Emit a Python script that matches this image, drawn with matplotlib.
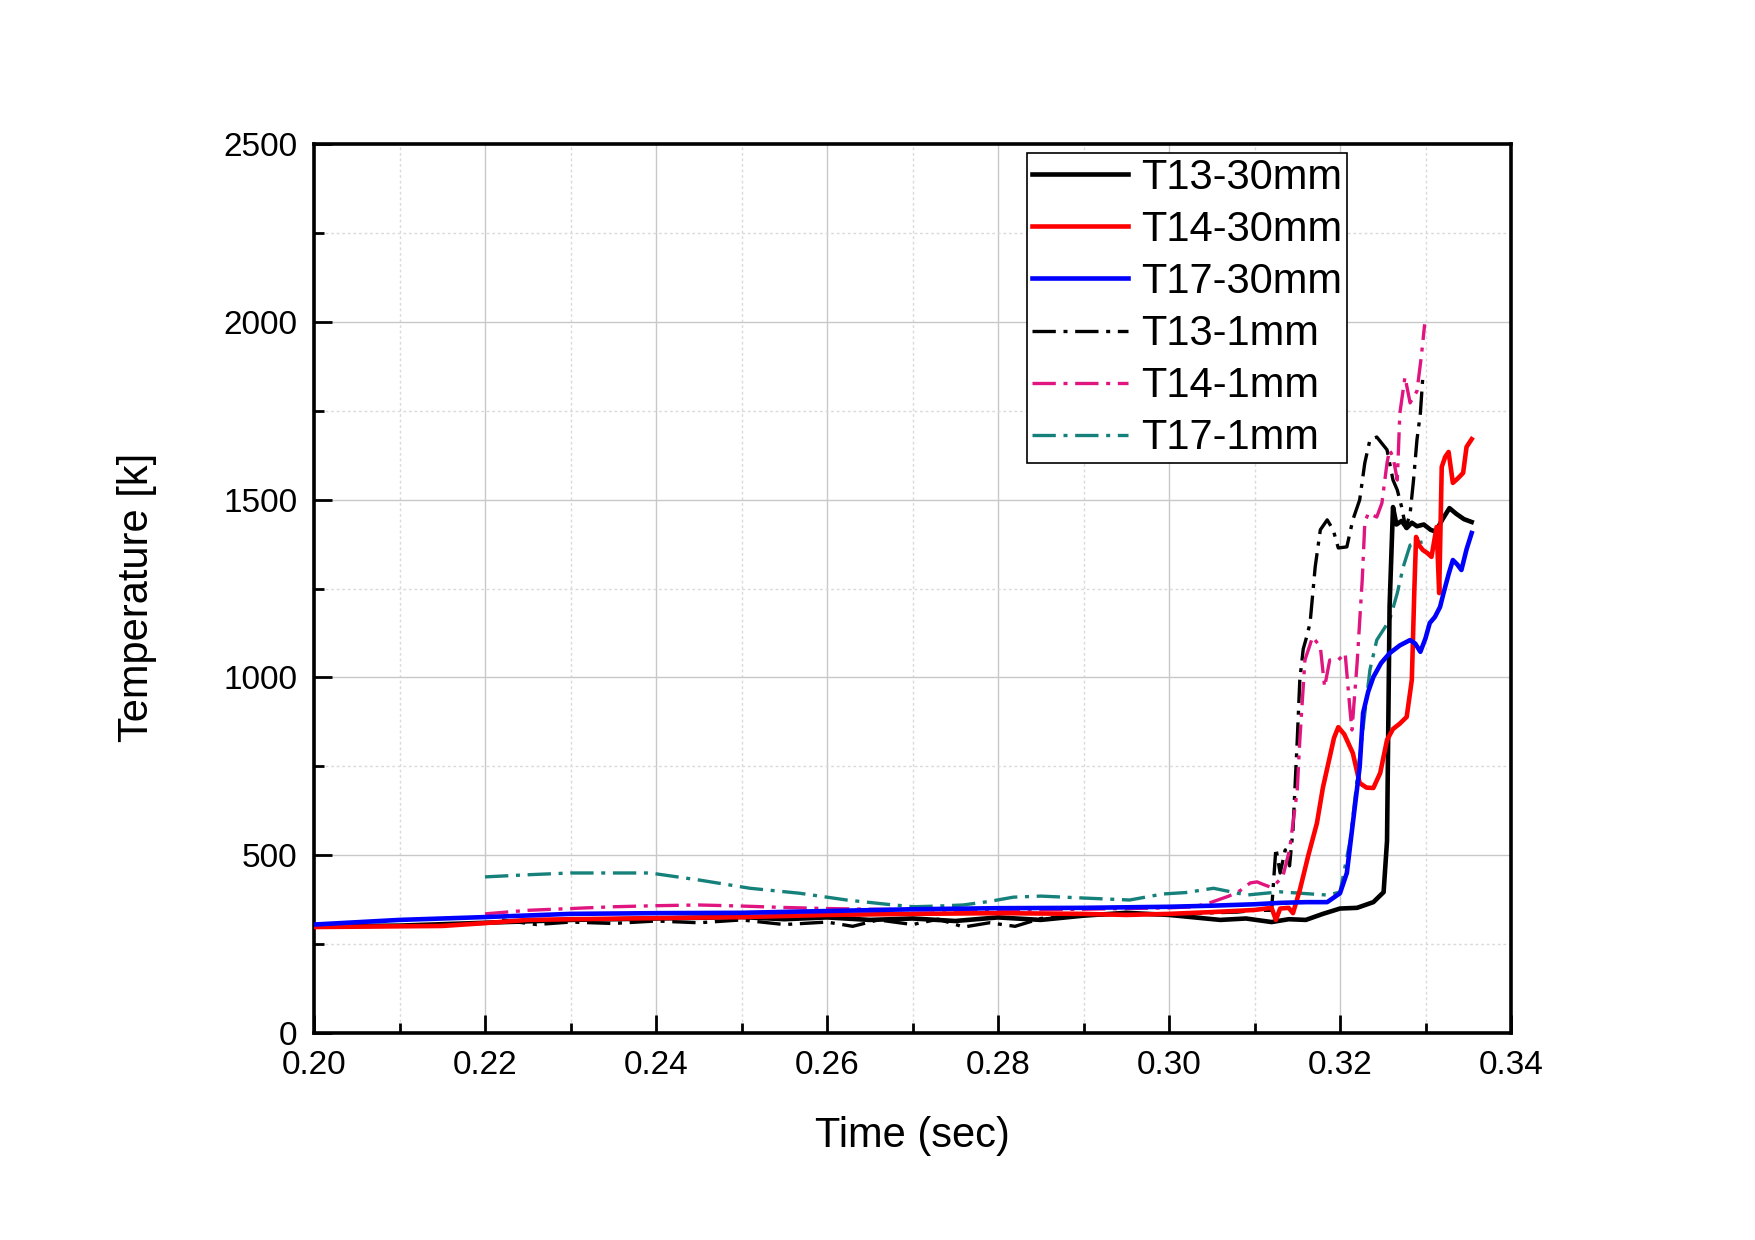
import matplotlib
matplotlib.use("Agg")
import matplotlib.pyplot as plt
from matplotlib.ticker import MultipleLocator

# ---------------- data ----------------
t13_30_x = [0.200, 0.210, 0.220, 0.230, 0.240, 0.250, 0.255, 0.260, 0.265, 0.270, 0.275, 0.280,
            0.285, 0.290, 0.295, 0.300, 0.303, 0.306, 0.309, 0.312, 0.314, 0.316, 0.318, 0.320,
            0.322, 0.3239, 0.3251, 0.3255, 0.3258, 0.3262, 0.3266, 0.3272, 0.3278, 0.3284, 0.3290,
            0.3298, 0.3306, 0.3312, 0.3320, 0.3328, 0.3336, 0.3345, 0.3354]
t13_30_y = [300, 302, 310, 318, 322, 326, 320, 325, 318, 322, 315, 325,
            318, 330, 338, 332, 325, 318, 322, 312, 320, 318, 335, 350,
            352, 368, 396, 540, 1200, 1479, 1430, 1440, 1420, 1435, 1425,
            1430, 1415, 1410, 1445, 1476, 1460, 1445, 1437]

t14_30_x = [0.200, 0.210, 0.215, 0.220, 0.225, 0.230, 0.240, 0.250, 0.260, 0.270, 0.280, 0.290,
            0.295, 0.300, 0.305, 0.310, 0.312, 0.3125, 0.313, 0.314, 0.3145, 0.3153, 0.3163,
            0.3173, 0.3180, 0.3188, 0.3193, 0.3198, 0.3205, 0.3215, 0.3223, 0.3231, 0.3239,
            0.3247, 0.3255, 0.3262, 0.3270, 0.3278, 0.3284, 0.3287, 0.3289, 0.3293, 0.3297,
            0.3302, 0.3307, 0.3313, 0.3316, 0.3319, 0.3323, 0.3327, 0.3332, 0.3338, 0.3344,
            0.3348, 0.3354]
t14_30_y = [298, 300, 301, 309, 318, 320, 323, 326, 332, 335, 337, 335,
            332, 335, 340, 346, 352, 318, 350, 352, 337, 402, 500,
            590, 690, 776, 830, 860, 840, 787, 703, 690, 689,
            731, 824, 855, 870, 889, 993, 1250, 1395, 1370, 1358,
            1350, 1339, 1423, 1237, 1592, 1620, 1634, 1547, 1560, 1575,
            1648, 1670]

t17_30_x = [0.200, 0.210, 0.220, 0.230, 0.240, 0.250, 0.260, 0.270, 0.280, 0.290, 0.300, 0.305,
            0.310, 0.313, 0.316, 0.3185, 0.3200, 0.3208, 0.3215, 0.3223, 0.3227, 0.3233,
            0.3239, 0.3248, 0.3258, 0.3270, 0.3282, 0.3288, 0.3294, 0.3300, 0.3305, 0.3311,
            0.3317, 0.3321, 0.3327, 0.3332, 0.3337, 0.3342, 0.3348, 0.3354]
t17_30_y = [305, 318, 326, 335, 337, 338, 343, 348, 351, 352, 355, 358,
            362, 366, 368, 368, 393, 450, 590, 748, 900, 960,
            1001, 1040, 1068, 1090, 1105, 1095, 1072, 1110, 1153, 1170,
            1198, 1236, 1290, 1330, 1318, 1302, 1360, 1406]

t13_1_x = [0.222, 0.226, 0.230, 0.235, 0.240, 0.245, 0.250, 0.255, 0.260, 0.263, 0.266, 0.270,
           0.273, 0.276, 0.279, 0.282, 0.285, 0.290, 0.295, 0.300, 0.305, 0.308, 0.310, 0.312,
           0.3125, 0.3130, 0.3136, 0.3141, 0.3145, 0.3150, 0.3153, 0.3157, 0.3161, 0.3165,
           0.3171, 0.3177, 0.3185, 0.3192, 0.3198, 0.3208, 0.3215, 0.3223, 0.3229, 0.3235,
           0.3243, 0.3255, 0.3262, 0.3267, 0.3272, 0.3277, 0.3282, 0.3286, 0.3290, 0.3294, 0.3297]
t13_1_y = [318, 305, 312, 308, 315, 310, 318, 305, 312, 300, 318, 305,
           320, 298, 310, 300, 322, 330, 335, 332, 338, 340, 345, 345,
           520, 450, 515, 470, 571, 824, 993, 1080, 1114, 1153,
           1311, 1415, 1443, 1415, 1364, 1367, 1443, 1499, 1603, 1668,
           1676, 1640, 1555, 1527, 1480, 1420, 1461, 1555, 1668, 1743, 1850]

t14_1_x = [0.220, 0.225, 0.230, 0.235, 0.240, 0.245, 0.250, 0.255, 0.260, 0.265, 0.270, 0.275,
           0.280, 0.285, 0.290, 0.295, 0.300, 0.303, 0.305, 0.307, 0.3083, 0.3095, 0.3103,
           0.3110, 0.3118, 0.3125, 0.3133, 0.3141, 0.3150, 0.3153, 0.3159, 0.3168, 0.3177,
           0.3182, 0.3188, 0.3198, 0.3206, 0.3212, 0.3214, 0.3220, 0.3226, 0.3229, 0.3233,
           0.3243, 0.3249, 0.3255, 0.3258, 0.3262, 0.3267, 0.3270, 0.3276, 0.3282, 0.3290,
           0.3295, 0.3299]
t14_1_y = [335, 345, 350, 355, 358, 360, 357, 353, 350, 348, 347, 345,
           346, 347, 348, 350, 352, 355, 368, 385, 400, 422, 425,
           418, 411, 420, 439, 515, 683, 824, 1049, 1114, 1086,
           973, 1049, 1049, 1068, 900, 852, 1040, 1274, 1434, 1462,
           1451, 1490, 1603, 1640, 1620, 1555, 1743, 1845, 1772, 1805,
           1900, 1993]

t17_1_x = [0.220, 0.225, 0.230, 0.235, 0.2393, 0.2451, 0.2510, 0.2568, 0.2623, 0.2670, 0.2701,
           0.2730, 0.2759, 0.2790, 0.2818, 0.2850, 0.2896, 0.2954, 0.2993, 0.3020, 0.3052,
           0.3091, 0.3130, 0.3160, 0.3185, 0.3200, 0.3212, 0.3223, 0.3235, 0.3243, 0.3258,
           0.3267, 0.3274, 0.3282, 0.3290, 0.3297]
t17_1_y = [439, 445, 450, 450, 450, 430, 407, 393, 374, 362, 355,
           357, 360, 370, 382, 385, 380, 374, 391, 395, 407,
           388, 397, 392, 388, 396, 543, 776, 1021, 1105, 1161,
           1237, 1311, 1372, 1378, 1381]

labels = ["T13-30mm", "T14-30mm", "T17-30mm", "T13-1mm", "T14-1mm", "T17-1mm"]
x_ticks = [0.20, 0.22, 0.24, 0.26, 0.28, 0.30, 0.32, 0.34]
y_ticks = [0, 500, 1000, 1500, 2000, 2500]

# ---------------- plot ----------------
plt.rcParams['font.family'] = ['Liberation Sans', 'DejaVu Sans']

fig = plt.figure(figsize=(17.55, 12.40), dpi=100)
ax = fig.add_axes([314 / 1755, 1 - 1033 / 1240, (1511 - 314) / 1755, (1033 - 144) / 1240])

dd = (0, (7, 2.3, 1.2, 2.3))
ax.plot(t13_30_x, t13_30_y, color='black', lw=3.3, label=labels[0], zorder=4)
ax.plot(t14_30_x, t14_30_y, color='#ff0000', lw=3.3, label=labels[1], zorder=4)
ax.plot(t17_30_x, t17_30_y, color='#0000ff', lw=3.3, label=labels[2], zorder=4)
ax.plot(t13_1_x, t13_1_y, color='black', lw=2.4, linestyle=dd, label=labels[3], zorder=3)
ax.plot(t14_1_x, t14_1_y, color='#e0157f', lw=2.4, linestyle=dd, label=labels[4], zorder=3)
ax.plot(t17_1_x, t17_1_y, color='#16807a', lw=2.4, linestyle=dd, label=labels[5], zorder=3)

ax.set_xlim(0.20, 0.34)
ax.set_ylim(0, 2500)
ax.set_xticks(x_ticks)
ax.set_xticklabels([f"{v:.2f}" for v in x_ticks])
ax.set_yticks(y_ticks)
ax.xaxis.set_minor_locator(MultipleLocator(0.01))
ax.yaxis.set_minor_locator(MultipleLocator(250))

ax.grid(True, which='major', color='#c8c8c8', lw=1.0, linestyle='-')
ax.grid(True, which='minor', color='#dadada', lw=1.0, linestyle=(0, (2, 2)))
ax.set_axisbelow(True)

ax.tick_params(which='major', direction='in', length=13, width=2.0, labelsize=24, pad=12)
ax.tick_params(which='minor', direction='in', length=7, width=2.0)
ax.tick_params(top=False, right=False)
for s in ax.spines.values():
    s.set_linewidth(2.6)

ax.set_xlabel("Time (sec)", fontsize=30)
ax.set_ylabel("Temperature [k]", fontsize=30)
ax.xaxis.set_label_coords(0.5, -0.093)
ax.yaxis.set_label_coords(-0.131, 0.49)

leg = ax.legend(loc='upper left', bbox_to_anchor=(0.596, 0.990), borderaxespad=0,
                fontsize=30, frameon=True, fancybox=False, framealpha=1,
                edgecolor='black', handlelength=2.3, handletextpad=0.3,
                labelspacing=0.29, borderpad=0.12)
leg.get_frame().set_linewidth(1.2)

fig.savefig("out.png", dpi=100)
